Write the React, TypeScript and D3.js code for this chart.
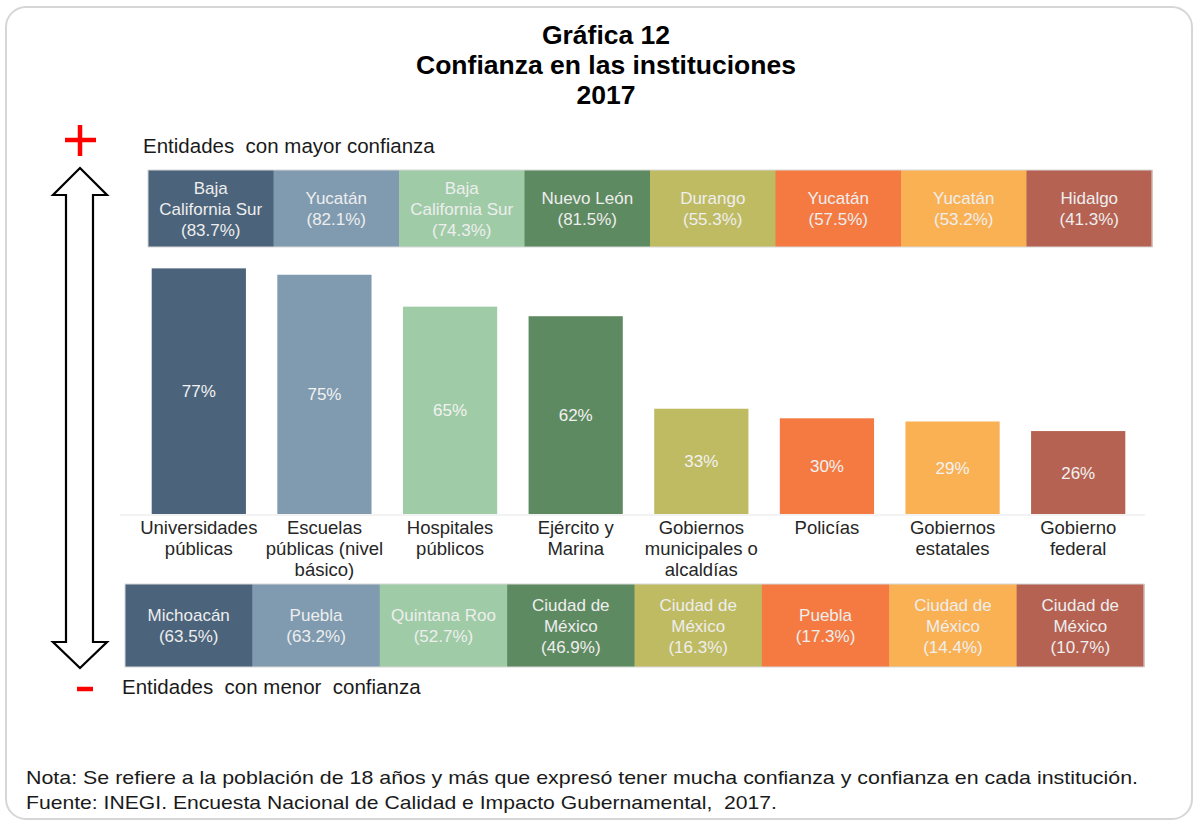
import React, { useEffect, useRef } from 'react';
import * as d3 from 'd3';

// instituciones (etiquetas en líneas) y porcentaje de confianza
const categories = [
  ['Universidades', 'públicas'],
  ['Escuelas', 'públicas (nivel', 'básico)'],
  ['Hospitales', 'públicos'],
  ['Ejército y', 'Marina'],
  ['Gobiernos', 'municipales o', 'alcaldías'],
  ['Policías'],
  ['Gobiernos', 'estatales'],
  ['Gobierno', 'federal'],
];
const values = [77, 75, 65, 62, 33, 30, 29, 26];

// entidades con mayor confianza
const topEntities = [
  ['Baja', 'California Sur'],
  ['Yucatán'],
  ['Baja', 'California Sur'],
  ['Nuevo León'],
  ['Durango'],
  ['Yucatán'],
  ['Yucatán'],
  ['Hidalgo'],
];
const topValues = [83.7, 82.1, 74.3, 81.5, 55.3, 57.5, 53.2, 41.3];

// entidades con menor confianza
const bottomEntities = [
  ['Michoacán'],
  ['Puebla'],
  ['Quintana Roo'],
  ['Ciudad de', 'México'],
  ['Ciudad de', 'México'],
  ['Puebla'],
  ['Ciudad de', 'México'],
  ['Ciudad de', 'México'],
];
const bottomValues = [63.5, 63.2, 52.7, 46.9, 16.3, 17.3, 14.4, 10.7];

const colors = ['#4b637b', '#809bb0', '#9fcca6', '#5e8a61', '#bfbb62', '#f47a42', '#fab154', '#b56252'];

const FONT = '"Liberation Sans", Arial, sans-serif';

export default function App() {
  const svgRef = useRef<SVGSVGElement>(null);
  const width = 1195;
  const height = 821;

  useEffect(() => {
    document.body.style.margin = '0';
    const svg = d3.select(svgRef.current);
    svg.selectAll('*').remove();
    svg.attr('width', width).attr('height', height).style('font-family', FONT);

    const idx = d3.range(values.length);

    // tarjeta
    svg.append('rect')
      .attr('x', 6).attr('y', 7).attr('width', 1186).attr('height', 812)
      .attr('rx', 20).attr('fill', '#fff').attr('stroke', '#d6d6d6').attr('stroke-width', 2);

    // título
    ['Gráfica 12', 'Confianza en las instituciones', '2017'].forEach((t, i) => {
      svg.append('text')
        .attr('x', 606).attr('y', 44 + i * 30)
        .attr('text-anchor', 'middle')
        .attr('font-size', 26.5).attr('font-weight', 'bold').attr('fill', '#000')
        .text(t);
    });

    // escalas
    const xScale = d3.scaleBand<number>().domain(idx).range([136, 1141]).paddingInner(0.25).paddingOuter(0.125);
    const yScale = d3.scaleLinear().domain([0, 100]).range([514, 195]);
    const xTop = d3.scaleBand<number>().domain(idx).range([148, 1152]).padding(0);
    const xBottom = d3.scaleBand<number>().domain(idx).range([125, 1144]).padding(0);

    // flecha doble
    const ax = 80;
    const arrow = d3.path();
    arrow.moveTo(ax, 168);
    arrow.lineTo(ax + 27, 195);
    arrow.lineTo(ax + 13, 195);
    arrow.lineTo(ax + 13, 642);
    arrow.lineTo(ax + 27, 642);
    arrow.lineTo(ax, 668);
    arrow.lineTo(ax - 27, 642);
    arrow.lineTo(ax - 14, 642);
    arrow.lineTo(ax - 14, 195);
    arrow.lineTo(ax - 27, 195);
    arrow.closePath();
    svg.append('path').attr('d', arrow.toString())
      .attr('fill', '#fff').attr('stroke', '#000').attr('stroke-width', 2.2);

    // + y -
    svg.append('line').attr('x1', ax).attr('x2', ax).attr('y1', 125).attr('y2', 156)
      .attr('stroke', '#ff0000').attr('stroke-width', 4.5);
    svg.append('line').attr('x1', 65).attr('x2', 96).attr('y1', 140).attr('y2', 140)
      .attr('stroke', '#ff0000').attr('stroke-width', 4.5);
    svg.append('line').attr('x1', 77).attr('x2', 93).attr('y1', 689).attr('y2', 689)
      .attr('stroke', '#ff0000').attr('stroke-width', 4.5);

    svg.append('text').attr('x', 143).attr('y', 153)
      .attr('font-size', 20.5).attr('fill', '#1a1a1a').style('white-space', 'pre')
      .text('Entidades  con mayor confianza');
    svg.append('text').attr('x', 122).attr('y', 694)
      .attr('font-size', 20.5).attr('fill', '#1a1a1a').style('white-space', 'pre')
      .text('Entidades  con menor  confianza');

    // bandas de entidades
    const drawBand = (scale: d3.ScaleBand<number>, y0: number, y1: number, names: string[][], vals: number[]) => {
      const g = svg.append('g');
      g.selectAll('rect.cell')
        .data(idx)
        .enter()
        .append('rect')
        .attr('class', 'cell')
        .attr('x', (i) => scale(i) as number)
        .attr('y', y0)
        .attr('width', scale.bandwidth() + 0.5)
        .attr('height', y1 - y0)
        .attr('fill', (i) => colors[i]);
      g.append('rect')
        .attr('x', scale.range()[0]).attr('y', y0)
        .attr('width', scale.range()[1] - scale.range()[0]).attr('height', y1 - y0)
        .attr('fill', 'none').attr('stroke', '#d8d8d8').attr('stroke-width', 1);
      const cy = (y0 + y1) / 2;
      idx.forEach((i) => {
        const lines = [...names[i], `(${vals[i].toFixed(1)}%)`];
        const t = g.append('text')
          .attr('text-anchor', 'middle')
          .attr('font-size', 17)
          .attr('fill', '#eeeeee');
        lines.forEach((l, k) => {
          t.append('tspan')
            .attr('x', (scale(i) as number) + scale.bandwidth() / 2)
            .attr('y', cy + (k - (lines.length - 1) / 2) * 21 + 6)
            .text(l);
        });
      });
    };
    drawBand(xTop, 170, 247, topEntities, topValues);
    drawBand(xBottom, 584, 667, bottomEntities, bottomValues);

    // línea base
    svg.append('line').attr('x1', 120).attr('x2', 1145).attr('y1', 515).attr('y2', 515)
      .attr('stroke', '#e6e6e6').attr('stroke-width', 1);

    // barras
    svg.selectAll('rect.bar')
      .data(values)
      .enter()
      .append('rect')
      .attr('class', 'bar')
      .attr('x', (_, i) => xScale(i) as number)
      .attr('y', (d) => yScale(d))
      .attr('width', xScale.bandwidth())
      .attr('height', (d) => yScale(0) - yScale(d))
      .attr('fill', (_, i) => colors[i]);

    // valores en las barras
    svg.selectAll('text.val')
      .data(values)
      .enter()
      .append('text')
      .attr('class', 'val')
      .attr('x', (_, i) => (xScale(i) as number) + xScale.bandwidth() / 2)
      .attr('y', (d) => (yScale(d) + yScale(0)) / 2 + 6)
      .attr('text-anchor', 'middle')
      .attr('font-size', 17)
      .attr('fill', '#f2f2f2')
      .text((d) => `${d}%`);

    // etiquetas de categorías
    categories.forEach((lines, i) => {
      const t = svg.append('text')
        .attr('text-anchor', 'middle')
        .attr('font-size', 18.5)
        .attr('fill', '#262626');
      lines.forEach((l, k) => {
        t.append('tspan')
          .attr('x', (xScale(i) as number) + xScale.bandwidth() / 2)
          .attr('y', 534 + k * 21)
          .text(l);
      });
    });

    // notas
    svg.append('text').attr('x', 26).attr('y', 784)
      .attr('font-size', 19).attr('fill', '#1a1a1a')
      .attr('textLength', 1112).attr('lengthAdjust', 'spacingAndGlyphs')
      .text('Nota: Se refiere a la población de 18 años y más que expresó tener mucha confianza y confianza en cada institución.');
    svg.append('text').attr('x', 26).attr('y', 809)
      .attr('font-size', 19).attr('fill', '#1a1a1a')
      .attr('textLength', 751).attr('lengthAdjust', 'spacingAndGlyphs')
      .style('white-space', 'pre')
      .text('Fuente: INEGI. Encuesta Nacional de Calidad e Impacto Gubernamental,  2017.');
  }, []);

  return (
    <div>
      <svg ref={svgRef} style={{ display: 'block' }}></svg>
    </div>
  );
}
